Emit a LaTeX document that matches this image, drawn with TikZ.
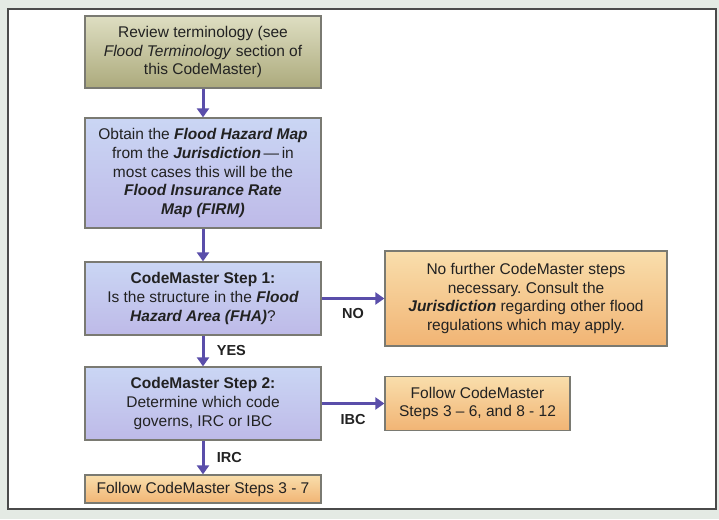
\documentclass[tikz,border=0pt]{standalone}
\usepackage{fontspec}
\setmainfont{Liberation Sans}
\usetikzlibrary{arrows.meta}
\frenchspacing

\definecolor{pageGreen}{HTML}{E4EAE4}
\definecolor{frameGray}{HTML}{4A4A4A}
\definecolor{boxLine}{HTML}{7A7A72}
\definecolor{textGray}{HTML}{222222}
\definecolor{arrowBlue}{HTML}{5A4EAA}
\definecolor{termTop}{HTML}{DEDEC2}
\definecolor{termBottom}{HTML}{ACAA7C}
\definecolor{mapTop}{HTML}{CAD6F4}
\definecolor{mapBottom}{HTML}{BEBAE8}
\definecolor{stopTop}{HTML}{F9DEAC}
\definecolor{stopBottom}{HTML}{F1B474}

\tikzset{
  flowbox/.style={draw=boxLine, line width=1.3pt, align=center, inner sep=0pt,
    text=textGray, font=\fontsize{15.5}{18.8}\selectfont},
  termbox/.style={flowbox, top color=termTop, bottom color=termBottom},
  mapbox/.style={flowbox, top color=mapTop, bottom color=mapBottom},
  stopbox/.style={flowbox, top color=stopTop, bottom color=stopBottom},
  flowarrow/.style={draw=arrowBlue, line width=3pt, -{Triangle[length=9pt,width=12pt]}},
  answer/.style={font=\fontsize{14.5}{16}\selectfont\bfseries, text=textGray}
}

\begin{document}
\begin{tikzpicture}[x=1pt,y=-1pt]

  % page and frame
  \fill[pageGreen] (0,0) rectangle (719,519);
  \draw[frameGray, line width=1.5pt, fill=white] (8,9) rectangle (716,509);
  \useasboundingbox (0,0) rectangle (719,519);

  \node[termbox, minimum width=236pt, minimum height=72pt] (1) at (203,52)
    {Review terminology (see\\ \textit{Flood Terminology} section of\\ this CodeMaster)};
  \node[mapbox, minimum width=236pt, minimum height=110pt] (2) at (203,173)
    {Obtain the \textbf{\textit{Flood Hazard Map}}\\ from the \textbf{\textit{Jurisdiction}}\,---\,in\\
     most cases this will be the\\ \textbf{\textit{Flood Insurance Rate}}\\ \textbf{\textit{Map (FIRM)}}};
  \node[mapbox, minimum width=236pt, minimum height=73pt] (3) at (203,298.5)
    {\textbf{CodeMaster Step 1:}\\ Is the structure in the \textbf{\textit{Flood}}\\ \textbf{\textit{Hazard Area (FHA)}}?};
  \node[stopbox, minimum width=282pt, minimum height=95pt] (4) at (526,298.5)
    {No further CodeMaster steps\\ necessary. Consult the\\
     \textbf{\textit{Jurisdiction}} regarding other flood\\ regulations which may apply.};
  \node[mapbox, minimum width=236pt, minimum height=73pt] (5) at (203,403.5)
    {\textbf{CodeMaster Step 2:}\\ Determine which code\\ governs, IRC or IBC};
  \node[stopbox, minimum width=185pt, minimum height=54pt] (6) at (477.5,403.5)
    {Follow CodeMaster\\ Steps 3 -- 6, and 8 - 12};
  \node[stopbox, minimum width=236pt, minimum height=28pt] (7) at (203,489)
    {Follow CodeMaster Steps 3 - 7};

  \begin{scope}[every edge/.style={flowarrow}]
    \path (1) edge (2);
    \path (2) edge (3);
    \path (3) edge node[answer, below=5pt] {NO} (4);
    \path (3) edge node[answer, right=9pt] {YES} (5);
    \path (5) edge node[answer, below=6pt] {IBC} (6);
    \path (5) edge node[answer, right=9pt] {IRC} (7);
  \end{scope}

\end{tikzpicture}
\end{document}
